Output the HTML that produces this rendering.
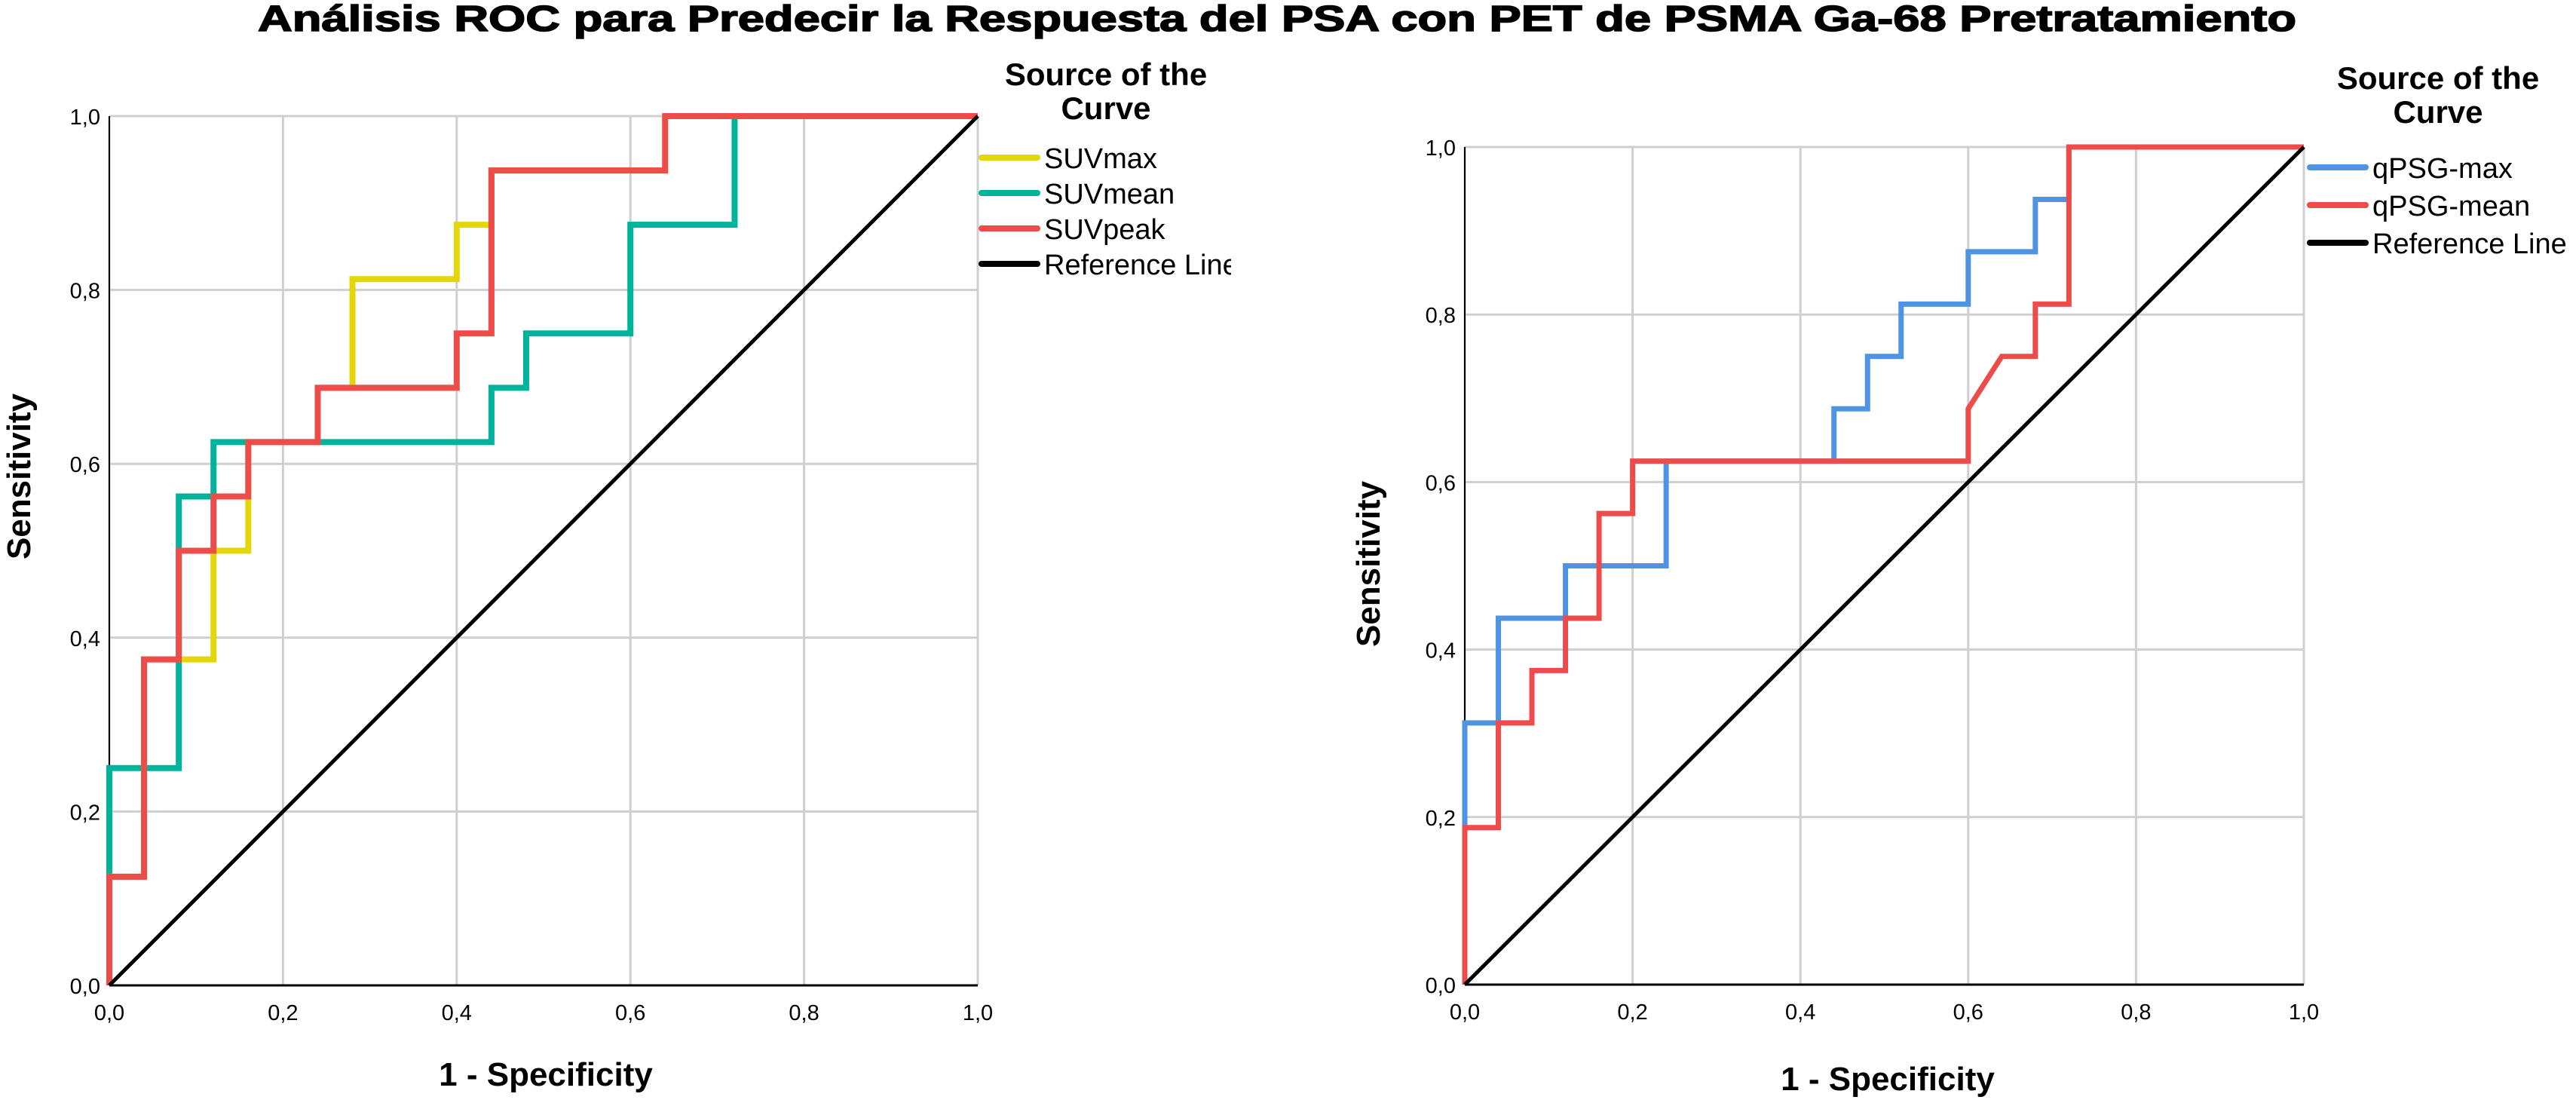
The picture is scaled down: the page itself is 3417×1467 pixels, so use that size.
<!DOCTYPE html>
<html><head><meta charset="utf-8"><style>
html,body{margin:0;padding:0;background:#fff;}
svg{display:block;font-family:"Liberation Sans",sans-serif;}
</style></head><body>
<svg id="chart" width="3417" height="1467" viewBox="0 0 3417 1467" xmlns="http://www.w3.org/2000/svg">
<defs><clipPath id="clipL"><rect x="0" y="0" width="1633" height="1467"/></clipPath><clipPath id="clipR"><rect x="1700" y="0" width="1717" height="1467"/></clipPath></defs>
<text x="342" y="41" font-size="48" font-weight="bold" textLength="2704" lengthAdjust="spacingAndGlyphs" stroke="#000" stroke-width="1.5">Análisis ROC para Predecir la Respuesta del PSA con PET de PSMA Ga-68 Pretratamiento</text>
<g id="left" clip-path="url(#clipL)"></g>
<g id="right" clip-path="url(#clipR)"></g>
</svg>
<script>
const ticks = [0, 0.2, 0.4, 0.6, 0.8, 1.0];
const tickLabels = ["0,0", "0,2", "0,4", "0,6", "0,8", "1,0"];
const leftSeriesNames = ["SUVmax", "SUVmean", "SUVpeak"];
const suvMax = [[0,0],[0,.125],[.04,.125],[.04,.375],[.12,.375],[.12,.5],[.16,.5],[.16,.625],[.24,.625],[.24,.6875],[.28,.6875],[.28,.8125],[.40,.8125],[.40,.875],[.44,.875],[.44,.9375],[.64,.9375],[.64,1],[1,1]];
const suvMean = [[0,0],[0,.25],[.08,.25],[.08,.5625],[.12,.5625],[.12,.625],[.44,.625],[.44,.6875],[.48,.6875],[.48,.75],[.60,.75],[.60,.875],[.72,.875],[.72,1],[1,1]];
const suvPeak = [[0,0],[0,.125],[.04,.125],[.04,.375],[.08,.375],[.08,.5],[.12,.5],[.12,.5625],[.16,.5625],[.16,.625],[.24,.625],[.24,.6875],[.40,.6875],[.40,.75],[.44,.75],[.44,.9375],[.64,.9375],[.64,1],[1,1]];
const rightSeriesNames = ["qPSG-max", "qPSG-mean"];
const qpsgMax = [[0,0],[0,.3125],[.04,.3125],[.04,.4375],[.12,.4375],[.12,.5],[.24,.5],[.24,.625],[.44,.625],[.44,.6875],[.48,.6875],[.48,.75],[.52,.75],[.52,.8125],[.60,.8125],[.60,.875],[.68,.875],[.68,.9375],[.72,.9375],[.72,1],[1,1]];
const qpsgMean = [[0,0],[0,.1875],[.04,.1875],[.04,.3125],[.08,.3125],[.08,.375],[.12,.375],[.12,.4375],[.16,.4375],[.16,.5625],[.20,.5625],[.20,.625],[.60,.625],[.60,.6875],[.64,.75],[.68,.75],[.68,.8125],[.72,.8125],[.72,1],[1,1]];
const refLine = [[0,0],[1,1]];

const NS = "http://www.w3.org/2000/svg";
function mk(parent, tag, attrs, text){
  const e = document.createElementNS(NS, tag);
  for (const k in attrs) e.setAttribute(k, attrs[k]);
  if (text !== undefined) e.textContent = text;
  parent.appendChild(e); return e;
}
function panel(g, cfg){
  const sx = v => cfg.x0 + v * (cfg.x1 - cfg.x0);
  const sy = v => cfg.y0 - v * (cfg.y0 - cfg.y1);
  ticks.forEach((t, i) => {
    const gv = mk(g, 'line', {x1: sx(t), x2: sx(t), y1: sy(0), y2: sy(1), stroke: '#cfcfcf', 'stroke-width': 3});
    
    
    const gh = mk(g, 'line', {x1: sx(0), x2: sx(1), y1: sy(t), y2: sy(t), stroke: '#cfcfcf', 'stroke-width': 3});
    
    
    const tx = mk(g, 'text', {x: sx(t), y: cfg.y0 + 46, 'font-size': cfg.fs, 'text-anchor': 'middle'}, tickLabels[i]);
    
    
    const ty = mk(g, 'text', {x: sx(0) - 12, y: sy(t) + 11, 'font-size': cfg.fs, 'text-anchor': 'end'}, tickLabels[i]);
    
    
  });
  const ax = mk(g, 'line', {x1: sx(0), x2: sx(1), y1: sy(0), y2: sy(0), stroke: '#000', 'stroke-width': 3});
  
  
  const ay = mk(g, 'line', {x1: sx(0), x2: sx(0), y1: sy(0), y2: sy(1), stroke: '#000', 'stroke-width': 2});
  
  
  cfg.series.forEach(s => {
    const d = s.data.map((p, i) => (i ? 'L' : 'M') + sx(p[0]) + ' ' + sy(p[1])).join(' ');
    const p = mk(g, 'path', {d: d, fill: 'none', stroke: s.color, 'stroke-width': s.w, 'stroke-linejoin': 'miter'});
    
    
  });
  const xt = mk(g, 'text', {x: cfg.xtx, y: cfg.xty, 'font-size': 44, 'font-weight': 'bold', 'text-anchor': 'middle'}, '1 - Specificity');
  
  
  const yt = mk(g, 'text', {x: 0, y: 0, 'font-size': 44, 'font-weight': 'bold', 'text-anchor': 'middle', transform: `translate(${cfg.ytx},${cfg.yty}) rotate(-90)`}, 'Sensitivity');
  
  
  const l1 = mk(g, 'text', {x: cfg.lcx, y: cfg.lty, 'font-size': 42, 'font-weight': 'bold', 'text-anchor': 'middle'}, 'Source of the');
  
  
  const l2 = mk(g, 'text', {x: cfg.lcx, y: cfg.lty + 45, 'font-size': 42, 'font-weight': 'bold', 'text-anchor': 'middle'}, 'Curve');
  
  
  cfg.legend.forEach((it, i) => {
    const y = cfg.liy + i * cfg.lstep;
    const ln = mk(g, 'line', {x1: cfg.llx, x2: cfg.llx + 74, y1: y, y2: y, stroke: it.color, 'stroke-width': 8, 'stroke-linecap': 'round'});
    
    
    const tt = mk(g, 'text', {x: cfg.llx + 83, y: y + 14, 'font-size': 38}, it.label);
    
    
  });
}
panel(document.getElementById('left'), {
  x0: 145, x1: 1297, y0: 1307, y1: 154, fs: 29,
  xtx: 724, xty: 1440, ytx: 40, yty: 632,
  lcx: 1467, lty: 113, llx: 1302, liy: 209, lstep: 47,
  series: [
    {name: 'suvmean-curve', data: suvMean, color: '#00b39a', w: 8},
    {name: 'suvmax-curve', data: suvMax, color: '#e3d70a', w: 8},
    {name: 'suvpeak-curve', data: suvPeak, color: '#ee4b4b', w: 8},
    {name: 'reference-line', data: refLine, color: '#000', w: 5}
  ],
  legend: [{label: leftSeriesNames[0], color: '#e3d70a'}, {label: leftSeriesNames[1], color: '#00b39a'}, {label: leftSeriesNames[2], color: '#ee4b4b'}, {label: 'Reference Line', color: '#000'}]
});
panel(document.getElementById('right'), {
  x0: 1943, x1: 3056, y0: 1306, y1: 195, fs: 29,
  xtx: 2504, xty: 1446, ytx: 1830, yty: 748,
  lcx: 3234, lty: 118, llx: 3064, liy: 222, lstep: 50,
  series: [
    {name: 'qpsg-max-curve', data: qpsgMax, color: '#4f93e3', w: 7},
    {name: 'qpsg-mean-curve', data: qpsgMean, color: '#ee4b4b', w: 7},
    {name: 'reference-line', data: refLine, color: '#000', w: 5}
  ],
  legend: [{label: rightSeriesNames[0], color: '#4f93e3'}, {label: rightSeriesNames[1], color: '#ee4b4b'}, {label: 'Reference Line', color: '#000'}]
});
</script>
</body></html>
